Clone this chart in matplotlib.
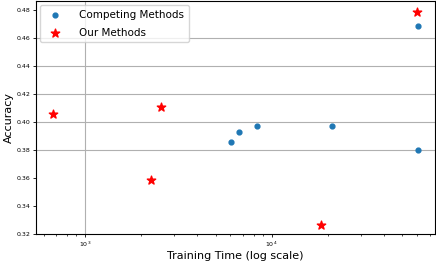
import numpy as np
import matplotlib
matplotlib.use('Agg')
import matplotlib.pyplot as plt

# tiempos de entrenamiento (s) y accuracy
comp_time = [6070, 6650, 8370, 21150, 60600, 60600]
comp_acc = [0.3857, 0.3931, 0.3971, 0.3971, 0.3800, 0.4688]

ours_time = [674, 2270, 2547, 18320, 60200]
ours_acc = [0.4059, 0.3586, 0.4107, 0.3271, 0.4790]

y_ticks = [0.32, 0.34, 0.36, 0.38, 0.40, 0.42, 0.44, 0.46, 0.48]
y_grid = [0.38, 0.40, 0.42, 0.44, 0.46]
x_grid = [1e3]

fig = plt.figure(figsize=(4.36, 2.62), dpi=100)
ax = fig.add_axes([0.082, 0.105, 0.916, 0.891])

for yg in y_grid:
    ax.axhline(yg, color='#b0b0b0', lw=0.8, zorder=0)
for xg in x_grid:
    ax.axvline(xg, color='#b0b0b0', lw=0.8, zorder=0)

ax.scatter(comp_time, comp_acc, s=12, color='#1f77b4', marker='o', label='Competing Methods', zorder=3)
ax.scatter(ours_time, ours_acc, s=40, color='red', marker='*', label='Our Methods', zorder=3)

ax.set_xscale('log')
ax.set_xlim(545, 75000)
ax.set_ylim(0.32, 0.4866)
ax.set_yticks(y_ticks)
ax.set_yticklabels(['%.2f' % v for v in y_ticks])
ax.tick_params(axis='both', labelsize=4.5, length=2, width=0.6, pad=2)
ax.tick_params(axis='x', which='minor', length=1.5, width=0.5)

ax.set_xlabel('Training Time (log scale)', fontsize=8, labelpad=1)
ax.set_ylabel('Accuracy', fontsize=8, labelpad=2)

ax.legend(loc='upper left', fontsize=7.5, borderaxespad=0.4, handletextpad=1.3,
          borderpad=0.45, labelspacing=0.75)

fig.savefig('out.png', dpi=100)
